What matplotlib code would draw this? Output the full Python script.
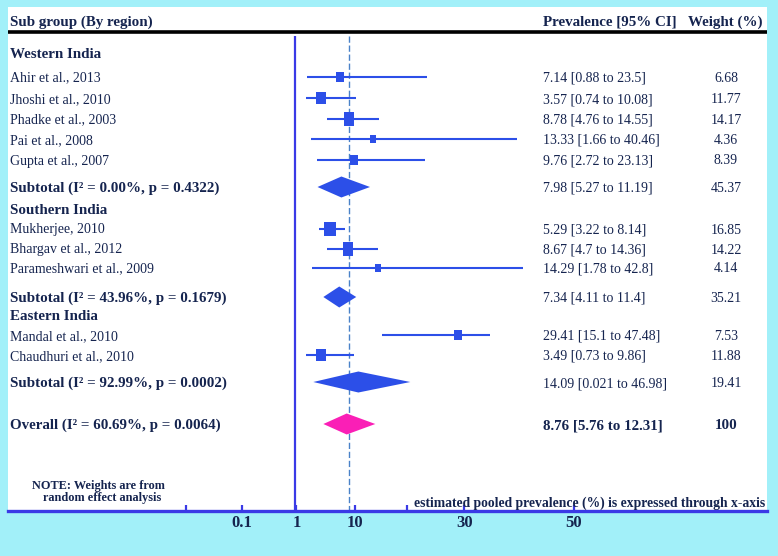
import numpy as np
import matplotlib
matplotlib.use("Agg")
import matplotlib.pyplot as plt
from matplotlib.path import Path
from matplotlib.patches import Polygon
from matplotlib.transforms import blended_transform_factory

# ---------------- data ----------------
group_names = ["Western India", "Southern India", "Eastern India"]

study_names = [
    "Ahir et al., 2013", "Jhoshi et al., 2010", "Phadke et al., 2003",
    "Pai et al., 2008", "Gupta et al., 2007",
    "Mukherjee, 2010", "Bhargav et al., 2012", "Parameshwari et al., 2009",
    "Mandal et al., 2010", "Chaudhuri et al., 2010",
]
study_group = [0, 0, 0, 0, 0, 1, 1, 1, 2, 2]
study_est = [7.14, 3.57, 8.78, 13.33, 9.76, 5.29, 8.67, 14.29, 29.41, 3.49]
study_lo = [0.88, 0.74, 4.76, 1.66, 2.72, 3.22, 4.7, 1.78, 15.1, 0.73]
study_hi = [23.5, 10.08, 14.55, 40.46, 23.13, 8.14, 14.36, 42.8, 47.48, 9.86]
study_weight = [6.68, 11.77, 14.17, 4.36, 8.39, 16.85, 14.22, 4.14, 7.53, 11.88]
# right end of each CI line as it is drawn in the figure
study_line_hi = [23.5, 10.08, 14.55, 40.46, 23.13, 8.14, 14.36, 41.6, 35.5, 9.86]

subtotal_labels = [
    "Subtotal (I\u00b2 = 0.00%, p = 0.4322)",
    "Subtotal (I\u00b2 = 43.96%, p = 0.1679)",
    "Subtotal (I\u00b2 = 92.99%, p = 0.0002)",
]
subtotal_est = [7.98, 7.34, 14.09]
subtotal_lo = [5.27, 4.11, 0.021]
subtotal_hi = [11.19, 11.4, 46.98]
subtotal_weight = [45.37, 35.21, 19.41]
# diamonds as they are drawn in the figure
subtotal_dia_mid = [7.4, 7.0, 10.6]
subtotal_dia_lo = [2.9, 4.0, 2.1]
subtotal_dia_hi = [12.8, 10.2, 20.4]

overall_label = "Overall (I\u00b2 = 60.69%, p = 0.0064)"
overall_est = 8.76
overall_lo = 5.76
overall_hi = 12.31
overall_weight = 100
overall_dia = (4.0, 8.4, 13.8)

tick_labels = ["0.1", "1", "10", "30", "50"]

# ---------------- layout ----------------
W, H = 778, 556
cyan = "#a2f0f9"
navy = "#15244f"
blue = "#2c4fe8"
line_blue = "#3a3ae6"
pink = "#fa1fb6"
serif = "Liberation Serif"

header_y = [53, 209, 315.5]
study_y = [76.5, 98, 118.5, 139, 159.5, 228.5, 248.5, 267.5, 335, 355]
subtotal_y = [187, 297, 382]
overall_y = 424

x_name = 10
x_ci = 543
x_wt = 726

major_ticks = [-11.3, -1.1, 10.0, 30.6, 51.2]
minor_ticks = [-21.9, 19.8]
null_x = -1.4

fig = plt.figure(figsize=(W / 100, H / 100), dpi=100, facecolor=cyan)
ax = fig.add_axes([8 / W, (H - 511) / H, (767 - 8) / W, (511 - 7) / H])
ax.set_facecolor("white")
ax.set_xlim(-55.5, 87.7)
ax.set_ylim(511, 7)

for s in ["top", "left", "right"]:
    ax.spines[s].set_visible(False)
ax.spines["bottom"].set_color(line_blue)
ax.spines["bottom"].set_linewidth(2.4)
ax.set_yticks([])

ax.set_xticks(major_ticks)
ax.set_xticklabels(tick_labels)
ax.set_xticks(minor_ticks, minor=True)
ax.tick_params(axis="x", which="both", direction="in", length=4, width=1.6,
               color=line_blue, pad=3)
for lab in ax.get_xticklabels():
    lab.set_fontfamily(serif)
    lab.set_fontweight("bold")
    lab.set_fontsize(12)
    lab.set_color(navy)

tr = blended_transform_factory(fig.transFigure, ax.transData)


def put(px, y, s, bold=False, size=10, ha="left"):
    ax.text(px / W, y, s, transform=tr, ha=ha, va="center_baseline",
            fontsize=size, fontfamily=serif,
            fontweight="bold" if bold else "normal", color=navy)


# header
put(x_name, 20.5, "Sub group (By region)", bold=True, size=10.8)
put(x_ci, 20.5, "Prevalence [95% CI]", bold=True, size=10.8)
put(763, 20.5, "Weight (%)", bold=True, size=10.8, ha="right")
ax.axhline(31.7, color="black", lw=2.6)

# reference lines
ax.vlines(null_x, 36, 511, color=line_blue, lw=1.6)
ax.vlines(overall_est, 36, 511, color="#4a82c8", lw=1.0,
          linestyles=(0, (4.5, 2)))

# square marker, a bit taller than wide
rect = Path([(-0.37, -0.5), (0.37, -0.5), (0.37, 0.5), (-0.37, 0.5), (-0.37, -0.5)],
            closed=True)

for g, gname in enumerate(group_names):
    put(x_name, header_y[g], gname, bold=True, size=10.8)

for i, name in enumerate(study_names):
    y = study_y[i]
    put(x_name, y, name)
    ax.hlines(y, study_lo[i], study_line_hi[i], color=blue, lw=1.5)
    h_pt = (6.5 + 0.5 * study_weight[i]) * 0.72
    ax.scatter([study_est[i]], [y], marker=rect, s=h_pt ** 2, color=blue,
               linewidths=0, zorder=3)
    put(x_ci, y, f"{study_est[i]} [{study_lo[i]} to {study_hi[i]}]")
    put(x_wt, y, f"{study_weight[i]}", ha="center")


def diamond(lo, mid, hi, y, color, half=10.5):
    ax.add_patch(Polygon([(lo, y), (mid, y - half), (hi, y), (mid, y + half)],
                         closed=True, facecolor=color, edgecolor="none", zorder=3))


for g in range(len(group_names)):
    y = subtotal_y[g]
    put(x_name, y, subtotal_labels[g], bold=True, size=10.8)
    diamond(subtotal_dia_lo[g], subtotal_dia_mid[g], subtotal_dia_hi[g], y, blue)
    put(x_ci, y, f"{subtotal_est[g]} [{subtotal_lo[g]} to {subtotal_hi[g]}]")
    put(x_wt, y, f"{subtotal_weight[g]}", ha="center")

put(x_name, overall_y, overall_label, bold=True, size=10.8)
diamond(overall_dia[0], overall_dia[1], overall_dia[2], overall_y, pink)
put(x_ci, overall_y, f"{overall_est} [{overall_lo} to {overall_hi}]", bold=True, size=10.8)
put(x_wt, overall_y, f"{overall_weight}", bold=True, size=10.8, ha="center")

# notes
put(98, 484, "NOTE: Weights are from", bold=True, size=8.8, ha="center")
put(102, 496, "random effect analysis", bold=True, size=8.8, ha="center")
put(765, 502, "estimated pooled prevalence (%) is expressed through x-axis",
    bold=True, size=9.8, ha="right")

plt.savefig("out.png", dpi=100, facecolor=cyan)
plt.close()
